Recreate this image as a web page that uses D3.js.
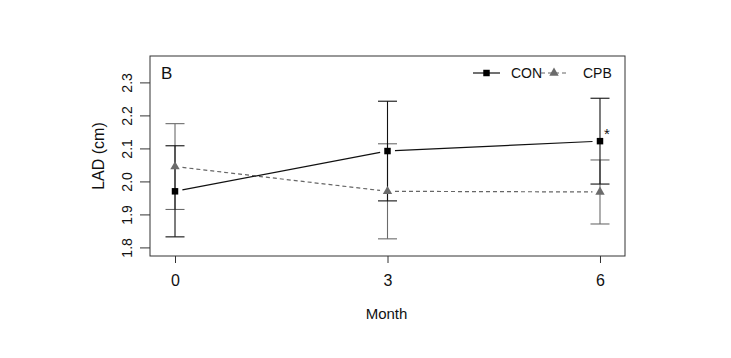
<!DOCTYPE html>
<html>
<head>
<meta charset="utf-8">
<script src="https://cdn.jsdelivr.net/npm/d3@7"></script>
<style>
  html, body { margin: 0; padding: 0; background: #fff; }
  svg { display: block; }
  text { font-family: "Liberation Sans", Arial, Helvetica, sans-serif; }
</style>
</head>
<body>
<svg id="chart" width="731" height="358"></svg>
<script>
// ---- data ----
const months = [0, 3, 6];
const conMean = [1.970, 2.092, 2.122];
const conErr  = [0.138, 0.151, 0.130];
const cpbMean = [2.045, 1.970, 1.968];
const cpbErr  = [0.130, 0.144, 0.097];
const yTicks = [1.8, 1.9, 2.0, 2.1, 2.2, 2.3];
const xTicks = [0, 3, 6];
const seriesNames = ["CON", "CPB"];

// ---- layout ----
const svg = d3.select("#chart");
const box = { left: 150, right: 625, top: 56, bottom: 256 };

const x = d3.scaleLinear().domain([-0.353, 6.353]).range([box.left, box.right]);
const y = d3.scaleLinear().domain([1.774, 2.380]).range([box.bottom, box.top]);

const conColor = "#111";
const cpbColor = "#6b6b6b";

// box
svg.append("rect")
  .attr("x", box.left).attr("y", box.top)
  .attr("width", box.right - box.left).attr("height", box.bottom - box.top)
  .attr("fill", "none").attr("stroke", "#333").attr("stroke-width", 1);

// x axis
const xAxis = d3.axisBottom(x).tickValues(xTicks).tickFormat(d3.format("d"))
  .tickSize(7).tickPadding(12);
const gx = svg.append("g").attr("transform", `translate(0,${box.bottom})`).call(xAxis);
gx.select(".domain").remove();
gx.selectAll("line").attr("stroke", "#333");
gx.selectAll("text").attr("font-size", 16).attr("fill", "#111")
  .attr("font-family", "Liberation Sans, Arial, sans-serif");

// y axis
const yAxis = d3.axisLeft(y).tickValues(yTicks).tickFormat(d3.format(".1f"))
  .tickSize(10).tickPadding(6);
const gy = svg.append("g").attr("transform", `translate(${box.left},0)`).call(yAxis);
gy.select(".domain").remove();
gy.selectAll("line").attr("stroke", "#333");
gy.selectAll("text")
  .attr("font-size", 14).attr("fill", "#111")
  .attr("font-family", "Liberation Sans, Arial, sans-serif")
  .attr("text-anchor", "middle")
  .attr("x", 0).attr("dy", null).attr("dominant-baseline", "central")
  .attr("transform", d => `translate(-23,0) rotate(-90)`);

// axis titles
svg.append("text").attr("x", (box.left + box.right) / 2 - 1).attr("y", 319)
  .attr("text-anchor", "middle").attr("font-size", 15).attr("fill", "#111").text("Month");
svg.append("text")
  .attr("transform", `translate(98,${(box.top + box.bottom) / 2}) rotate(-90)`)
  .attr("text-anchor", "middle").attr("dominant-baseline", "central")
  .attr("font-size", 16).attr("fill", "#111").text("LAD (cm)");

// panel label
svg.append("text").attr("x", 161).attr("y", 79).attr("font-size", 17).attr("fill", "#111").text("B");

// error bars
function errorBars(mean, err, color) {
  const g = svg.append("g").attr("stroke", color).attr("stroke-width", 1.1);
  months.forEach((m, i) => {
    const cx = x(m), yt = y(mean[i] + err[i]), yb = y(mean[i] - err[i]);
    g.append("line").attr("x1", cx).attr("x2", cx).attr("y1", yt).attr("y2", yb);
    g.append("line").attr("x1", cx - 9.5).attr("x2", cx + 9.5).attr("y1", yt).attr("y2", yt);
    g.append("line").attr("x1", cx - 9.5).attr("x2", cx + 9.5).attr("y1", yb).attr("y2", yb);
  });
}
errorBars(cpbMean, cpbErr, cpbColor);
errorBars(conMean, conErr, conColor);

// lines with gaps around points (R type = "b")
function gappedLines(mean, color, dash) {
  const g = svg.append("g");
  const gap = 7.5;
  for (let i = 0; i < months.length - 1; i++) {
    const x1 = x(months[i]), y1 = y(mean[i]), x2 = x(months[i + 1]), y2 = y(mean[i + 1]);
    const len = Math.hypot(x2 - x1, y2 - y1);
    const ux = (x2 - x1) / len, uy = (y2 - y1) / len;
    g.append("line")
      .attr("x1", x1 + ux * gap).attr("y1", y1 + uy * gap)
      .attr("x2", x2 - ux * gap).attr("y2", y2 - uy * gap)
      .attr("stroke", color).attr("stroke-width", 1.2)
      .attr("stroke-dasharray", dash);
  }
}
gappedLines(cpbMean, "#666", "4,3");
gappedLines(conMean, conColor, null);

// markers
const sq = d3.symbol().type(d3.symbolSquare).size(42);
const tri = d3.symbol().type(d3.symbolTriangle).size(38);
svg.append("g").selectAll("path").data(months).join("path")
  .attr("d", tri).attr("fill", "#6b6b6b")
  .attr("transform", (d, i) => `translate(${x(d)},${y(cpbMean[i])})`);
svg.append("g").selectAll("path").data(months).join("path")
  .attr("d", sq).attr("fill", "#000")
  .attr("transform", (d, i) => `translate(${x(d)},${y(conMean[i])})`);

// significance star
svg.append("text").attr("x", x(6) + 4).attr("y", y(conMean[2]) - 2)
  .attr("font-size", 15).attr("fill", "#111").text("*");

// legend
const lg = svg.append("g");
const ly = 73;
lg.append("line").attr("x1", 473).attr("x2", 500).attr("y1", ly).attr("y2", ly)
  .attr("stroke", conColor).attr("stroke-width", 1.2);
lg.append("path").attr("d", sq).attr("fill", "#000").attr("transform", `translate(486.5,${ly})`);
lg.append("text").attr("x", 511).attr("y", ly).attr("dominant-baseline", "central")
  .attr("font-size", 14).attr("fill", "#111").text(seriesNames[0]);
lg.append("line").attr("x1", 541).attr("x2", 568).attr("y1", ly).attr("y2", ly)
  .attr("stroke", "#666").attr("stroke-width", 1.2).attr("stroke-dasharray", "4,3");
lg.append("path").attr("d", tri).attr("fill", "#6b6b6b").attr("transform", `translate(554,${ly})`);
lg.append("text").attr("x", 583).attr("y", ly).attr("dominant-baseline", "central")
  .attr("font-size", 14).attr("fill", "#111").text(seriesNames[1]);
</script>
</body>
</html>
